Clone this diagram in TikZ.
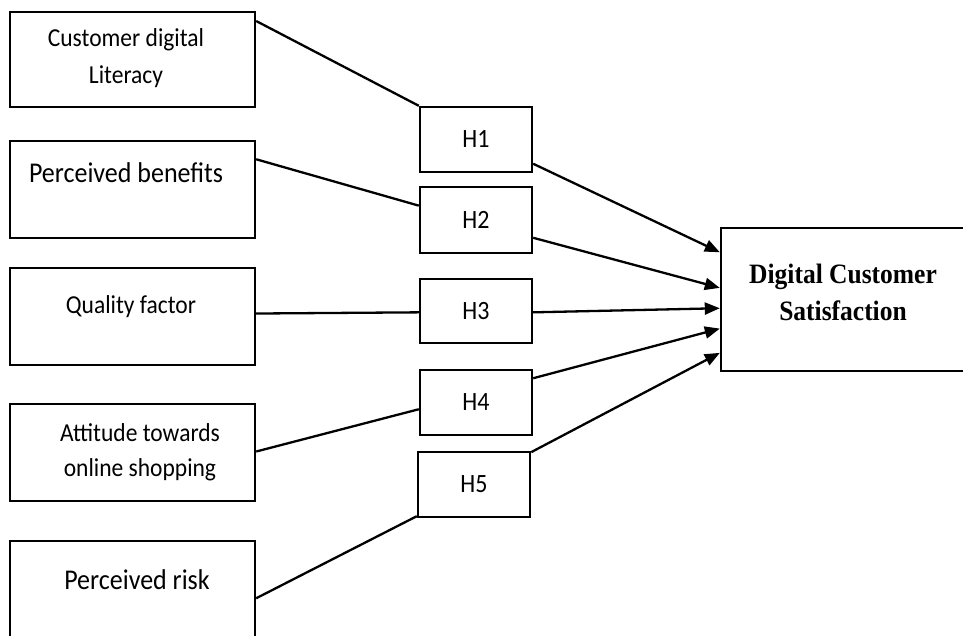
\documentclass[tikz,border=0pt]{standalone}
\usepackage{fontspec}
\setmainfont{Carlito}
\newfontfamily\serifbf{Liberation Serif}
\usetikzlibrary{calc,arrows.meta}
\newcommand{\vst}[1]{\scalebox{1}[1.1]{#1}}
\begin{document}
\begin{tikzpicture}[x=1pt,y=-1pt,
  box/.style={draw,line width=2.4pt,inner sep=0pt},
  conn/.style={line width=2.3pt},
  arr/.style={line width=2.3pt,-{Triangle[length=15pt,width=12pt]}},
  lbl/.style={font=\fontsize{23.5}{36}\selectfont,align=center,inner sep=0pt},
  lblb/.style={font=\fontsize{26}{36}\selectfont,align=center,inner sep=0pt},
  hlbl/.style={box,minimum width=112pt,font=\fontsize{24}{28}\selectfont}]
\clip (0,0) rectangle (963,635);
\fill[white] (0,0) rectangle (963,635);
% left boxes
\node[box,minimum width=245pt,minimum height=95pt] (b1) at (132.5,59.5) {};
\node[box,minimum width=245pt,minimum height=97pt] (b2) at (132.5,189.5) {};
\node[box,minimum width=245pt,minimum height=97pt] (b3) at (132.5,316.5) {};
\node[box,minimum width=245pt,minimum height=97pt] (b4) at (132.5,452.5) {};
\node[box,minimum width=245pt,minimum height=110pt] (b5) at (132.5,596) {};
\node[lbl] (t1a) at (126,40) {\vst{Customer digital}};
\node[lbl] (t1b) at (126,77) {\vst{Literacy}};
\node[lblb] (t2) at (126,173) {\vst{Perceived benefits}};
\node[lbl] (t3) at (131,307) {\vst{Quality factor}};
\node[lbl] (t4a) at (140,433) {\vst{Attitude towards}};
\node[lbl] (t4b) at (140,470) {\vst{online shopping}};
\node[lblb] (t5) at (137,580) {\vst{Perceived risk}};
% H boxes
\node[hlbl,minimum height=65pt] (h1) at (476,139.5) {\vst{H1}};
\node[hlbl,minimum height=66pt] (h2) at (476,220) {\vst{H2}};
\node[hlbl,minimum height=64pt] (h3) at (476,311) {\vst{H3}};
\node[hlbl,minimum height=65pt] (h4) at (476,402.5) {\vst{H4}};
\node[hlbl,minimum height=65pt] (h5) at (474,484.5) {\vst{H5}};
% target
\node[box,minimum width=250pt,minimum height=143pt] (dcs) at (846,299.5) {};
\node[font=\serifbf\bfseries\fontsize{25.5}{37}\selectfont,align=center,inner sep=0pt] (dcst) at (843,292) {\vst{Digital Customer}\\\vst{Satisfaction}};
% connectors left -> H
\draw[conn] ($(b1.north east)!0.105!(b1.south east)$) -- (h1.north west);
\draw[conn] ($(b2.north east)!0.196!(b2.south east)$) -- ($(h2.north west)!0.29!(h2.south west)$);
\draw[conn] ($(b3.north east)!0.47!(b3.south east)$) -- ($(h3.north west)!0.52!(h3.south west)$);
\draw[conn] ($(b4.north east)!0.49!(b4.south east)$) -- ($(h4.north west)!0.6!(h4.south west)$);
\draw[conn] ($(b5.north east)!0.52!(b5.south east)$) -- ($(h5.north west)!0.97!(h5.south west)$);
% arrows H -> target
\draw[arr] ($(h1.north east)!0.86!(h1.south east)$) -- ($(dcs.north west)!0.175!(dcs.south west)$);
\draw[arr] ($(h2.north east)!0.76!(h2.south east)$) -- ($(dcs.north west)!0.42!(dcs.south west)$);
\draw[arr] ($(h3.north east)!0.52!(h3.south east)$) -- ($(dcs.north west)!0.56!(dcs.south west)$);
\draw[arr] ($(h4.north east)!0.14!(h4.south east)$) -- ($(dcs.north west)!0.70!(dcs.south west)$);
\draw[arr] ($(h5.north east)!0.02!(h5.south east)$) -- ($(dcs.north west)!0.867!(dcs.south west)$);
\end{tikzpicture}
\end{document}
